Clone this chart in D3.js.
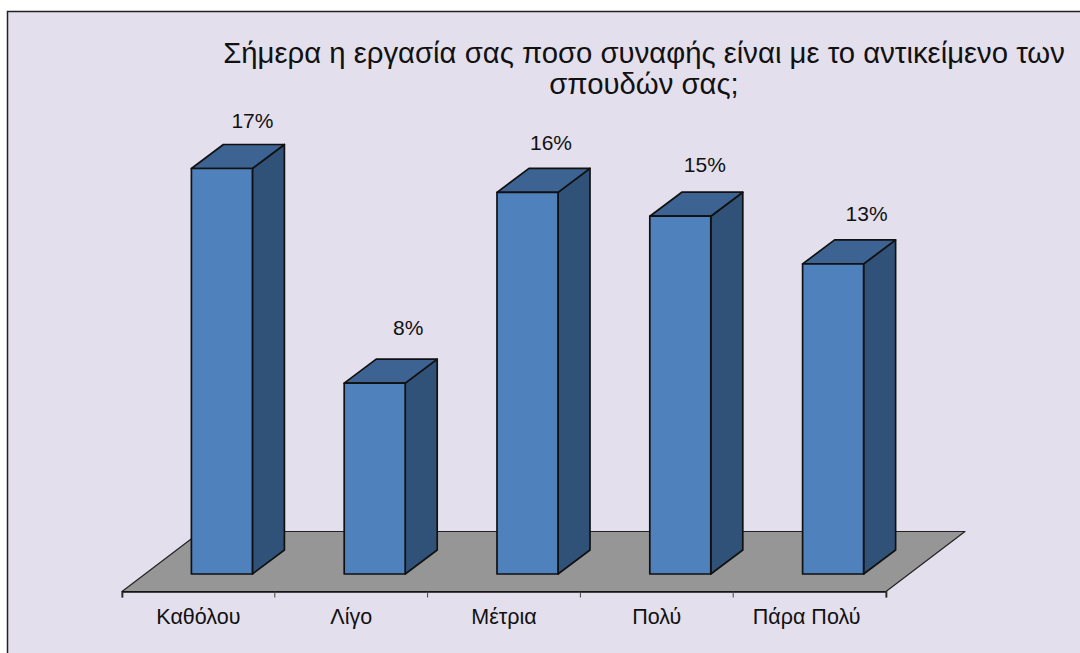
<!DOCTYPE html>
<html>
<head>
<meta charset="utf-8">
<script src="https://cdn.jsdelivr.net/npm/d3@7"></script>
<style>
html, body { margin: 0; padding: 0; background: #fff; }
svg { display: block; }
text { font-family: "Liberation Sans", Arial, sans-serif; fill: #111; }
</style>
</head>
<body>
<div id="chart"></div>
<script>
var categories = ["Καθόλου", "Λίγο", "Μέτρια", "Πολύ", "Πάρα Πολύ"];
var values = [17, 8, 16, 15, 13];
var titleLines = ["Σήμερα η εργασία σας ποσο συναφής είναι με το αντικείμενο των", "σπουδών σας;"];

var width = 1080,
	height = 653;

var svg = d3.select("#chart").append("svg")
	.attr("width", width)
	.attr("height", height);

// panel
svg.append("rect")
	.attr("x", 7.5).attr("y", 11.5)
	.attr("width", width).attr("height", height)
	.attr("fill", "#e4dfec")
	.attr("stroke", "#222")
	.attr("stroke-width", 1.5);

// x = front floor edge, bars sit a bit further back on the floor
var x = d3.scaleBand()
	.domain(categories)
	.range([122, 886]);

var y = d3.scaleLinear()
	.domain([0, 17])
	.range([574, 168.5]);

var floorY = 591.5,
	floorDx = 79,
	floorDy = 60,
	barW = 61,
	depthX = 32,
	depthY = 24;

// the original placed the value labels unevenly
var labelLift = [41, 48, 42, 44, 43];
var labelShift = [0, 3, -7, -6, 3];

function barLeft(d) { return x(d) + (x.bandwidth() - barW) / 2 + 23.5; }

//FLOOR
svg.append("polygon")
	.attr("points", [
		[x.range()[0], floorY],
		[x.range()[1], floorY],
		[x.range()[1] + floorDx, floorY - floorDy],
		[x.range()[0] + floorDx, floorY - floorDy]
	].join(" "))
	.attr("fill", "#969696")
	.attr("stroke", "#222")
	.attr("stroke-width", 1.2)
	.attr("stroke-linejoin", "round");

//AXIS
var axis = d3.axisBottom(x).tickSize(6).tickPadding(12).tickSizeOuter(6);
var axisG = svg.append("g")
	.attr("transform", "translate(0," + floorY + ")")
	.call(axis);
axisG.select(".domain").attr("stroke", "#111").attr("stroke-width", 1.6);
axisG.selectAll(".tick line")
	.attr("stroke", "#444")
	.attr("x1", function(d) { return -x.bandwidth() / 2; })
	.attr("x2", function(d) { return -x.bandwidth() / 2; });
axisG.append("line")
	.attr("x1", x.range()[1]).attr("x2", x.range()[1])
	.attr("y1", 0).attr("y2", 6)
	.attr("stroke", "#444");
axisG.selectAll(".tick text")
	.attr("font-size", 21.5)
	.style("font-family", '"Liberation Sans", Arial, sans-serif')
	.attr("fill", "#111")
	.attr("dy", "0.68em")
	.attr("dx", function(d, i) { return i === 4 ? -3 : 0; });

//BARS
var bars = svg.selectAll("g.bar")
	.data(categories)
	.enter().append("g")
	.attr("class", "bar");

var strokeCol = "#111";

bars.append("polygon") // side
	.attr("points", function(d, i) {
		var l = barLeft(d) + barW, t = y(values[i]), b = y(0);
		return [[l, t], [l + depthX, t - depthY], [l + depthX, b - depthY], [l, b]].join(" ");
	})
	.attr("fill", "#315278");

bars.append("polygon") // top
	.attr("points", function(d, i) {
		var l = barLeft(d), t = y(values[i]);
		return [[l, t], [l + depthX, t - depthY], [l + barW + depthX, t - depthY], [l + barW, t]].join(" ");
	})
	.attr("fill", "#3c6391");

bars.append("rect") // front
	.attr("x", barLeft)
	.attr("y", function(d, i) { return y(values[i]); })
	.attr("width", barW)
	.attr("height", function(d, i) { return y(0) - y(values[i]); })
	.attr("fill", "#4f81bd");

bars.selectAll("polygon, rect")
	.attr("stroke", strokeCol)
	.attr("stroke-width", 1.7)
	.attr("stroke-linejoin", "round");

//LABELS
bars.append("text")
	.attr("x", function(d, i) { return barLeft(d) + barW + labelShift[i]; })
	.attr("y", function(d, i) { return y(values[i]) - labelLift[i]; })
	.attr("text-anchor", "middle")
	.attr("font-size", 21)
	.text(function(d, i) { return values[i] + "%"; });

//TITLE
svg.append("text")
	.attr("x", 644)
	.attr("y", 63)
	.attr("text-anchor", "middle")
	.attr("font-size", 29.3)
	.selectAll("tspan")
	.data(titleLines)
	.enter().append("tspan")
	.attr("x", 644)
	.attr("dy", function(d, i) { return i ? 31 : 0; })
	.text(function(d) { return d; });
</script>
</body>
</html>
